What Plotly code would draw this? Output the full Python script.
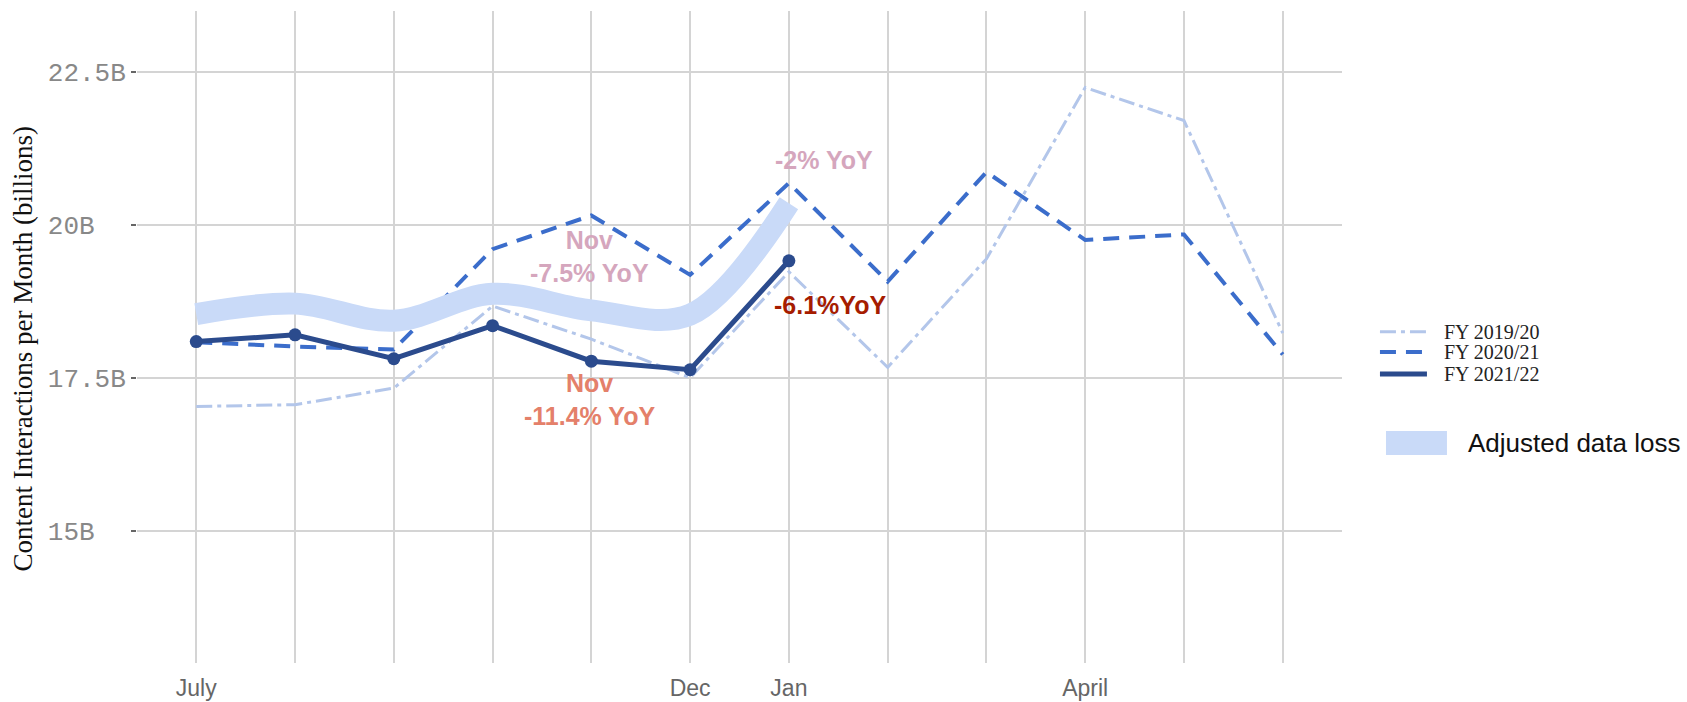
import plotly.graph_objects as go

# ---- data ----
months = ["July", "Aug", "Sep", "Oct", "Nov", "Dec", "Jan", "Feb", "Mar", "April", "May", "June"]
tick_labels = ["July", "", "", "", "", "Dec", "Jan", "", "", "April", "", ""]
fy_2019_20 = [17.03, 17.06, 17.33, 18.67, 18.13, 17.50, 19.23, 17.67, 19.44, 22.24, 21.70, 18.23]
fy_2020_21 = [18.08, 18.01, 17.96, 19.60, 20.15, 19.18, 20.68, 19.07, 20.86, 19.75, 19.84, 17.88]
fy_2021_22 = [18.09, 18.20, 17.81, 18.35, 17.77, 17.63, 19.41]
adjusted_loss = [18.54, 18.71, 18.43, 18.87, 18.60, 18.53, 20.35]
y_ticks = [15, 17.5, 20, 22.5]
y_tick_text = ["15B\u00a0\u00a0", "17.5B", "20B\u00a0\u00a0", "22.5B"]
series_names = ["FY 2019/20", "FY 2020/21", "FY 2021/22"]

annotations_data = [
    # (month index, value, text, color)
    (6.36, 21.05, "-2% YoY", "#d5a6bd"),
    (3.98, 19.48, "Nov<br>-7.5% YoY", "#d5a6bd"),
    (3.98, 17.14, "Nov<br>-11.4% YoY", "#e4806a"),
    (6.42, 18.69, "-6.1%YoY", "#a61c00"),
]

xi = list(range(len(months)))

C1920 = "#b3c6ea"
C2021 = "#3b6dcb"
C2122 = "#2b4b8d"
CBAND = "#c9daf8"
styles = [
    dict(color=C1920, width=3, dash="16px,5px,4px,5px"),
    dict(color=C2021, width=4, dash="16px,10px"),
    dict(color=C2122, width=5),
]

fig = go.Figure()
fig.add_trace(go.Scatter(x=xi, y=fy_2019_20, mode="lines", name=series_names[0], line=styles[0]))
fig.add_trace(go.Scatter(x=xi, y=fy_2020_21, mode="lines", name=series_names[1], line=styles[1]))
fig.add_trace(go.Scatter(x=xi[:len(adjusted_loss)], y=adjusted_loss, mode="lines",
                         name="Adjusted data loss",
                         line=dict(color=CBAND, width=22, shape="spline")))
fig.add_trace(go.Scatter(x=xi[:len(fy_2021_22)], y=fy_2021_22, mode="lines+markers", name=series_names[2],
                         line=styles[2], marker=dict(color=C2122, size=13)))

for x, y, t, c in annotations_data:
    fig.add_annotation(x=x, y=y, text="<b>" + t.replace("<br>", "</b><br><b>") + "</b>",
                       showarrow=False, xanchor="center", yanchor="middle",
                       font=dict(family="Liberation Sans, Arial", size=25, color=c))

# y title
fig.add_annotation(xref="paper", yref="paper", x=-0.095, y=0.4816, text="Content Interactions per Month (billions)",
                   textangle=-90, showarrow=False, xanchor="center", yanchor="middle",
                   font=dict(family="Liberation Serif, Times New Roman", size=27, color="#111111"))

# manual legend (paper coordinates)
leg_x0, leg_x1, leg_tx = 1.0315, 1.0705, 1.0830
leg_y = [0.5081, 0.4770, 0.4433]
for name, st, yy in zip(series_names, styles, leg_y):
    fig.add_shape(type="line", xref="paper", yref="paper", x0=leg_x0, x1=leg_x1, y0=yy, y1=yy,
                  line=st)
    fig.add_annotation(xref="paper", yref="paper", x=leg_tx, y=yy, text=name, showarrow=False,
                       xanchor="left", yanchor="middle",
                       font=dict(family="Liberation Serif, Times New Roman", size=20, color="#222222"))

fig.add_shape(type="rect", xref="paper", yref="paper", x0=1.0365, x1=1.0871, y0=0.319, y1=0.3558,
              fillcolor=CBAND, line=dict(width=0))
fig.add_annotation(xref="paper", yref="paper", x=1.1029, y=0.3374, text="Adjusted data loss",
                   showarrow=False, xanchor="left", yanchor="middle",
                   font=dict(family="Liberation Sans, Arial", size=26, color="#111111"))

fig.update_layout(
    width=1687, height=702,
    margin=dict(l=137, r=345, t=11, b=39),
    plot_bgcolor="white", paper_bgcolor="white",
    showlegend=False,
    xaxis=dict(range=[-0.6, 11.6], tickvals=xi, ticktext=tick_labels, showgrid=True, automargin=False,
               gridcolor="#d4d4d4", gridwidth=2, zeroline=False, showline=False,
               ticks="outside", ticklen=4, tickcolor="rgba(0,0,0,0)",
               tickfont=dict(family="Liberation Sans, Arial", size=23, color="#666666")),
    yaxis=dict(range=[12.84, 23.49], tickvals=y_ticks, ticktext=y_tick_text, showgrid=True, automargin=False,
               gridcolor="#d4d4d4", gridwidth=2, zeroline=False, showline=False,
               ticks="outside", ticklen=5, tickwidth=2, tickcolor="#666666",
               tickfont=dict(family="Liberation Mono, Courier New", size=26, color="#888888")),
)

fig.write_html("out.html", config={"displayModeBar": False},
               post_script="document.body.style.margin='0';document.body.style.overflow='hidden';")
